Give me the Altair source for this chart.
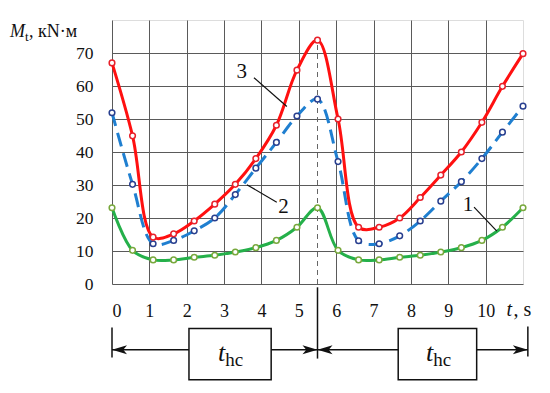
import altair as alt
import pandas as pd

SERIF = "Liberation Serif, Times New Roman, DejaVu Serif, serif"

# ---- data ----
t = [0, 0.55, 1.1, 1.65, 2.2, 2.75, 3.3, 3.85, 4.4, 4.95, 5.5,
     6.05, 6.6, 7.15, 7.7, 8.25, 8.8, 9.35, 9.9, 10.45, 11.0]
curve3 = [67.0, 44.9, 14.2, 15.2, 19.1, 24.2, 30.2, 38.0, 48.1, 64.8, 73.9,
          50.0, 17.2, 17.2, 20.0, 26.2, 33.0, 40.0, 49.0, 59.9, 69.8]
curve2 = [51.9, 30.2, 12.2, 13.2, 16.1, 20.0, 27.1, 35.1, 42.9, 50.9, 56.0,
          37.1, 13.1, 12.2, 14.6, 19.1, 25.1, 31.0, 38.0, 46.0, 53.9]
curve1 = [23.1, 10.2, 7.3, 7.3, 8.1, 8.7, 9.7, 11.0, 13.2, 17.2, 23.1,
          10.2, 7.3, 7.3, 8.1, 8.7, 9.7, 11.0, 13.2, 17.2, 23.1]

x_ticks = [0, 1, 2, 3, 4, 5, 6, 7, 8, 9, 10]
y_ticks = [0, 10, 20, 30, 40, 50, 60, 70]

t_split = 5.5
t_peak = 73.9
t_end = 11.13

# curve number labels and leader lines
num_text = ["3", "2", "1"]
num_x = [3.47, 4.59, 9.53]
num_y = [64.2, 23.3, 23.8]
lead_x1 = [3.80, 3.61, 9.69]
lead_y1 = [62.5, 30.1, 23.3]
lead_x2 = [4.68, 4.41, 10.30]
lead_y2 = [53.8, 24.8, 16.0]

# time-interval annotation
arrow_y = -19.9
box_x1 = [2.06, 7.66]
box_x2 = [4.26, 9.76]
box_y1 = -13.5
box_y2 = -29.0
thc_x = [3.03, 8.60]
thc_y = -23.2

# ---- scales / axes ----
xs = alt.Scale(domain=[0, 11], nice=False, zero=False)
ys = alt.Scale(domain=[0, 80], nice=False, zero=False)
x_axis = alt.Axis(values=x_ticks, grid=True, ticks=False, domain=False, title=None,
                  labelFont=SERIF, labelFontSize=18, labelColor="#111",
                  labelPadding=32, labelBaseline="alphabetic",
                  gridColor="#5a5a5a", gridWidth=1)
y_axis = alt.Axis(values=y_ticks, grid=True, ticks=False, domain=False, title=None,
                  labelFont=SERIF, labelFontSize=17.5, labelColor="#111",
                  labelPadding=19, labelBaseline="middle",
                  gridColor="#5a5a5a", gridWidth=1)


def X(f):
    return alt.X(f, type="quantitative", scale=xs, axis=x_axis)


def Y(f):
    return alt.Y(f, type="quantitative", scale=ys, axis=y_axis)


df = pd.DataFrame({"t": t, "c1": curve1, "c2": curve2, "c3": curve3})
base = alt.Chart(df)

# vertical dashed line at peak
vdash = alt.Chart(pd.DataFrame({"x": [t_split], "y1": [0], "y2": [t_peak]})).mark_rule(
    color="#666", strokeWidth=1, strokeDash=[5, 4]).encode(x=X("x"), y=Y("y1"), y2="y2")

line1 = base.mark_line(interpolate="catmull-rom", color="#25b04a", strokeWidth=3).encode(x=X("t"), y=Y("c1"))
line2 = base.mark_line(interpolate="catmull-rom", color="#1f7fd0", strokeWidth=3,
                       strokeDash=[14, 7]).encode(x=X("t"), y=Y("c2"))
line3 = base.mark_line(interpolate="catmull-rom", color="#ff1010", strokeWidth=3).encode(x=X("t"), y=Y("c3"))

pts1 = base.mark_circle(fill="white", stroke="#78a83c", strokeWidth=1.5, size=32, opacity=1).encode(x=X("t"), y=Y("c1"))
pts2 = base.mark_circle(fill="white", stroke="#283f8f", strokeWidth=1.5, size=32, opacity=1).encode(x=X("t"), y=Y("c2"))
pts3 = base.mark_circle(fill="white", stroke="#e8202a", strokeWidth=1.5, size=32, opacity=1).encode(x=X("t"), y=Y("c3"))

# curve number labels
ndf = pd.DataFrame({"x": num_x, "y": num_y, "s": num_text})
nums = alt.Chart(ndf).mark_text(font=SERIF, fontSize=21, color="#111", align="center",
                                baseline="middle").encode(x=X("x"), y=Y("y"), text="s:N")
ldf = pd.DataFrame({"x1": lead_x1, "y1": lead_y1, "x2": lead_x2, "y2": lead_y2})
leads = alt.Chart(ldf).mark_rule(color="#111", strokeWidth=1.2).encode(
    x=X("x1"), y=Y("y1"), x2="x2", y2="y2")

# y-axis title pieces
tt = pd.DataFrame({"x": [-2.33], "y": [75.0]})
tM = alt.Chart(tt).mark_text(text="M", font=SERIF, fontSize=18, fontStyle="italic", color="#111",
                             align="right", baseline="alphabetic").encode(x=X("x"), y=Y("y"))
tsub = alt.Chart(tt).mark_text(text="t", font=SERIF, fontSize=13, color="#111",
                               align="left", baseline="alphabetic", dy=4).encode(x=X("x"), y=Y("y"))
trest = alt.Chart(tt).mark_text(text=", кN·м", font=SERIF, fontSize=18, color="#111",
                                align="left", baseline="alphabetic", dx=4).encode(x=X("x"), y=Y("y"))

# x-axis title pieces
xt = pd.DataFrame({"x": [10.56], "y": [-9.77]})
xT = alt.Chart(xt).mark_text(text="t", font=SERIF, fontSize=20, fontStyle="italic", color="#111",
                             align="left", baseline="alphabetic").encode(x=X("x"), y=Y("y"))
xS = alt.Chart(xt).mark_text(text=", s", font=SERIF, fontSize=20, color="#111",
                             align="left", baseline="alphabetic", dx=7).encode(x=X("x"), y=Y("y"))

# annotation below axis
vlines = alt.Chart(pd.DataFrame({"x": [0, t_split, t_end], "y1": [-13.2, -1.0, -12.9],
                                 "y2": [-22.3, -22.6, -22.0]})).mark_rule(
    color="#111", strokeWidth=1.5).encode(x=X("x"), y=Y("y1"), y2="y2")
hlines = alt.Chart(pd.DataFrame({"x1": [0, t_split], "x2": [t_split, t_end],
                                 "y": [arrow_y, arrow_y]})).mark_rule(
    color="#111", strokeWidth=1.5).encode(x=X("x1"), x2="x2", y=Y("y"))
LEFT = "M0,0 L2,-0.6 L1.5,0 L2,0.6 Z"
RIGHT = "M0,0 L-2,-0.6 L-1.5,0 L-2,0.6 Z"
arrL = alt.Chart(pd.DataFrame({"x": [0, t_split], "y": [arrow_y, arrow_y]})).mark_point(
    shape=LEFT, filled=True, color="#111", size=225, opacity=1).encode(x=X("x"), y=Y("y"))
arrR = alt.Chart(pd.DataFrame({"x": [t_split, t_end], "y": [arrow_y, arrow_y]})).mark_point(
    shape=RIGHT, filled=True, color="#111", size=225, opacity=1).encode(x=X("x"), y=Y("y"))
boxes = alt.Chart(pd.DataFrame({"x1": box_x1, "x2": box_x2, "y1": [box_y1] * 2,
                                "y2": [box_y2] * 2})).mark_rect(
    fill="white", stroke="#111", strokeWidth=1.5).encode(x=X("x1"), x2="x2", y=Y("y1"), y2="y2")
thdf = pd.DataFrame({"x": thc_x, "y": [thc_y] * 2})
thT = alt.Chart(thdf).mark_text(text="t", font=SERIF, fontSize=26, fontStyle="italic", color="#111",
                                align="right", baseline="alphabetic").encode(x=X("x"), y=Y("y"))
thS = alt.Chart(thdf).mark_text(text="hc", font=SERIF, fontSize=19, color="#111",
                                align="left", baseline="alphabetic", dy=5).encode(x=X("x"), y=Y("y"))

chart = alt.layer(
    vdash, line1, line2, line3, pts1, pts2, pts3, leads, nums, tM, tsub, trest, xT, xS,
    vlines, hlines, arrL, arrR, boxes, thT, thS
).properties(
    width=411, height=264,
    autosize=alt.AutoSizeParams(type="none"),
    padding={"left": 104, "top": 12, "right": 19, "bottom": 101},
).configure_view(stroke="#333", strokeWidth=1.5).configure(background="white")

chart.save("out.html", embed_options={"renderer": "svg", "actions": False})
